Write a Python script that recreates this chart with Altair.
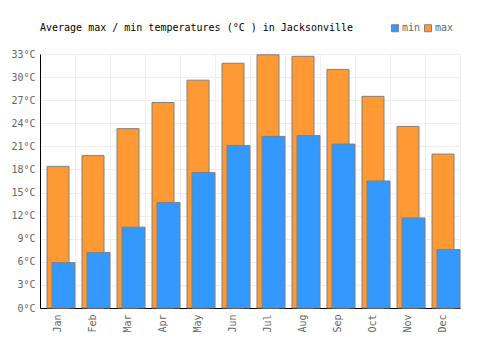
import altair as alt
import pandas as pd

months = ["Jan", "Feb", "Mar", "Apr", "May", "Jun", "Jul", "Aug", "Sep", "Oct", "Nov", "Dec"]
max_t = [18.4, 19.8, 23.3, 26.7, 29.6, 31.8, 32.9, 32.7, 31.0, 27.5, 23.6, 20.0]
min_t = [5.9, 7.2, 10.5, 13.7, 17.6, 21.1, 22.3, 22.4, 21.3, 16.5, 11.7, 7.6]
y_ticks = list(range(0, 34, 3))

rows = []
for m, a, b in zip(months, min_t, max_t):
    rows.append({"month": m, "series": "min", "temp": a})
    rows.append({"month": m, "series": "max", "temp": b})
df = pd.DataFrame(rows)

FONT = "DejaVu Sans Mono"
color = alt.Color(
    "series:N",
    scale=alt.Scale(domain=["min", "max"], range=["#3399ff", "#ff9933"]),
    legend=alt.Legend(
        title=None, orient="none", legendX=350, legendY=-31, direction="horizontal",
        columns=2, symbolType="square", symbolSize=49, symbolStrokeColor="#808080",
        symbolStrokeWidth=1, symbolOpacity=1, labelFont=FONT, labelFontSize=10,
        labelColor="#666666", labelOffset=2, columnPadding=1,
    ),
)

x = alt.X(
    "month:N", sort=months, title=None,
    scale=alt.Scale(paddingInner=0, paddingOuter=0),
    axis=alt.Axis(labelAngle=270, tickBand="extent", grid=True, gridColor="#eeeeee",
                  ticks=False, domainColor="#000000", labelFont=FONT, labelFontSize=10,
                  labelColor="#666666", labelPadding=6),
)
y = alt.Y(
    "temp:Q", title=None,
    scale=alt.Scale(domain=[0, 33], nice=False),
    axis=alt.Axis(values=y_ticks, labelExpr="datum.value + '°C'", gridColor="#eeeeee",
                  ticks=False, domainColor="#000000", labelFont=FONT, labelFontSize=10,
                  labelColor="#666666", labelPadding=5),
)

base = alt.Chart(df)
max_layer = base.transform_filter(alt.datum.series == "max").mark_bar(
    width=22, xOffset=0.5, stroke="#808080", strokeWidth=1
).encode(x=x, y=y, color=color)
min_layer = base.transform_filter(alt.datum.series == "min").mark_bar(
    width=23, xOffset=6, stroke="#808080", strokeWidth=1
).encode(x=x, y=y, color=color)

chart = alt.layer(max_layer, min_layer).properties(
    width=420, height=254,
    title=alt.TitleParams(
        "Average max / min temperatures (°C ) in Jacksonville",
        anchor="start", frame="group", font=FONT, fontSize=10, fontWeight="normal",
        color="#000000", baseline="middle", offset=0, dy=15,
    ),
    autosize=alt.AutoSizeParams(type="none"),
    padding={"left": 40, "top": 54, "right": 40, "bottom": 42},
).configure_view(strokeWidth=0)

chart.save("out.html", embed_options={"renderer": "svg", "actions": False})
